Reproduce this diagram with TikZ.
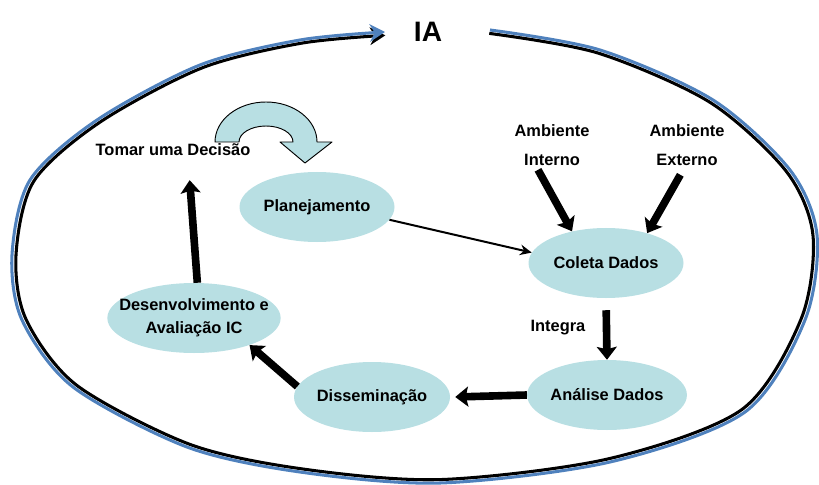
\documentclass[tikz,border=0pt]{standalone}
\usepackage{fontspec}
\setmainfont{Liberation Sans}
\usetikzlibrary{shapes.geometric,arrows.meta}
\definecolor{cicloazul}{RGB}{79,129,189}
\definecolor{etapafundo}{RGB}{184,223,227}

\tikzset{%
    etapa/.style={ellipse, fill=etapafundo, inner sep=0pt,
        minimum width=4.65cm, minimum height=2.1cm, align=center,
        font=\bfseries\fontsize{14}{19.5}\selectfont},
    rotulo/.style={align=center, font=\bfseries\fontsize{14}{17}\selectfont},
    seta grossa/.style={line width=6.5pt,
        -{Stealth[length=11pt,width=17pt,inset=2pt]}},
    seta fina/.style={line width=1.7pt, -{Stealth[length=10pt,width=9pt]}},
    ciclo/.style={
        insert path={
            plot[smooth] coordinates {(490,30) (600,50) (713,100) (790,170)
            (817,235) (805,320) (745,412) (610,462) (440,483) (300,472)
            (187,447) (73,387) (22,320) (12,255) (30,180) (97,120)
            (200,65) (300,40) (385,32)}
        }
    },
}

\begin{document}
\begin{tikzpicture}[x=0.03cm, y=-0.03cm, line join=round]
    \useasboundingbox (0,0) rectangle (819,485);

    % the IA loop, black shadow a little inside the blue line
    \begin{scope}[shift={(413,256)}, xscale=0.99, yscale=0.985, shift={(-413,-256)}]
        \draw[black, line width=2.6pt, -{Stealth[length=13pt,width=15pt]}] [ciclo];
    \end{scope}
    \draw[cicloazul, line width=2.6pt, -{Stealth[length=13pt,width=15pt]}] [ciclo];
    \node[font=\bfseries\fontsize{24}{28}\selectfont] (ia) at (428,32) {IA};

    \node[etapa] (plan) at (317,207) {Planejamento};
    \node[etapa] (coleta) at (606,263) {Coleta Dados};
    \node[etapa] (analise) at (607,395) {Análise Dados};
    \node[etapa] (dissem) at (372,397) {Disseminação};
    \node[etapa, inner xsep=-14pt, minimum width=5.2cm] (desenv) at (194,318) {Desenvolvimento e\\Avaliação IC};

    \node[rotulo] (decisao) at (173,150) {Tomar uma Decisão};
    \node[rotulo] (ambint) at (552,145) {Ambiente\\[8pt]Interno};
    \node[rotulo] (ambext) at (687,145) {Ambiente\\[8pt]Externo};
    \node[rotulo] (integra) at (558,328) {Integra};

    % turning arrow from the decision back to planning
    \filldraw[fill=etapafundo, draw=black, line width=0.8pt]
        (215,142) arc[start angle=180, end angle=360, x radius=51, y radius=40]
        -- (332,142) -- (305,163) -- (280,142) -- (293,142)
        arc[start angle=360, end angle=180, x radius=27, y radius=16] -- cycle;

    \draw[seta fina] (plan.-10) -- (coleta.172);
    \draw[seta grossa] ([xshift=-0.42cm]ambint.south) -- (coleta.137);
    \draw[seta grossa] ([xshift=-0.2cm,yshift=-0.15cm]ambext.south) -- (coleta.36);
    \draw[seta grossa, shorten <=0.36cm] (coleta.south) -- (analise.north);
    \draw[seta grossa] (analise.west) -- ([xshift=0.15cm]dissem.east);
    \draw[seta grossa] (dissem.172) -- (desenv.-26);
    \draw[seta grossa] ([xshift=0.1cm]desenv.north) -- ([xshift=0.5cm,yshift=-0.6cm]decisao.south);
\end{tikzpicture}
\end{document}
